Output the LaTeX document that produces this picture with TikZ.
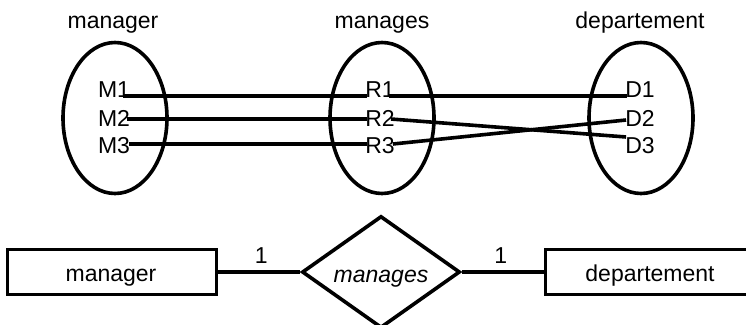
\documentclass[tikz,border=0pt]{standalone}
\usepackage{fontspec}
\setmainfont{Liberation Sans}
\usetikzlibrary{shapes.geometric}
\begin{document}
\begin{tikzpicture}[x=1pt,y=-1pt,
  every node/.style={font=\fontsize{23}{27}\selectfont},
  setshape/.style={draw, ellipse, line width=3.6pt, minimum width=104pt, minimum height=151pt, inner sep=0pt},
  item/.style={inner sep=0pt},
  caption/.style={inner sep=0pt, anchor=base},
  link/.style={line width=3.6pt},
  entity/.style={draw, rectangle, line width=3.6pt, minimum width=209pt, minimum height=45pt, inner sep=0pt},
  relation/.style={draw, diamond, line width=3.6pt, aspect=1.41, minimum width=158pt, minimum height=112pt, inner sep=0pt}]
\clip (0,0) rectangle (746,324);
\useasboundingbox (0,0) rectangle (746,324);

% instance diagram: three sets
\node[setshape] (setM) at (115,118) {};
\node[setshape] (setR) at (382,118) {};
\node[setshape] (setD) at (641,118) {};
\node[caption] (capM) at (113,28) {manager};
\node[caption] (capR) at (382,28) {manages};
\node[caption] (capD) at (640,28) {departement};

\node[item] (m1) at (114,90) {M1};
\node[item] (m2) at (114,118) {M2};
\node[item] (m3) at (114,146) {M3};
\node[item] (r1) at (380,90) {R1};
\node[item] (r2) at (380,118) {R2};
\node[item] (r3) at (380,146) {R3};
\node[item] (d1) at (640,90) {D1};
\node[item] (d2) at (640,118) {D2};
\node[item] (d3) at (640,146) {D3};

% pairings
\draw[link] ([xshift=-7pt,yshift=-6pt]m1.east) -- ([xshift=2pt,yshift=-6pt]r1.west);
\draw[link] ([xshift=-3pt,yshift=-1pt]m2.east) -- ([xshift=2pt,yshift=-1pt]r2.west);
\draw[link] ([xshift=-1pt,yshift=2pt]m3.east) -- ([xshift=2pt,yshift=2pt]r3.west);
\draw[link] ([xshift=-6pt,yshift=-6pt]r1.east) -- ([xshift=2pt,yshift=-6pt]d1.west);
\draw[link] ([xshift=-4pt,yshift=-1pt]r2.east) -- ([xshift=1pt,yshift=9pt]d3.west);
\draw[link] ([xshift=-2pt,yshift=2pt]r3.east) -- ([xshift=1pt,yshift=-2pt]d2.west);

% ER diagram
\node[entity] (mgr) at (112,272) {};
\node[caption] at (111,281) {manager};
\node[relation] (rel) at (381,272) {};
\node[caption] at (381,282) {\itshape manages};
\node[entity] (dep) at (650,272) {};
\node[caption] at (650,281) {departement};

\draw[link] (mgr.east) -- (rel.west) node[caption, pos=0.5, yshift=9pt, xshift=2pt] (card1) {1};
\draw[link] (rel.east) -- (dep.west) node[caption, pos=0.5, yshift=9pt, xshift=-2pt] (card2) {1};
\end{tikzpicture}
\end{document}
